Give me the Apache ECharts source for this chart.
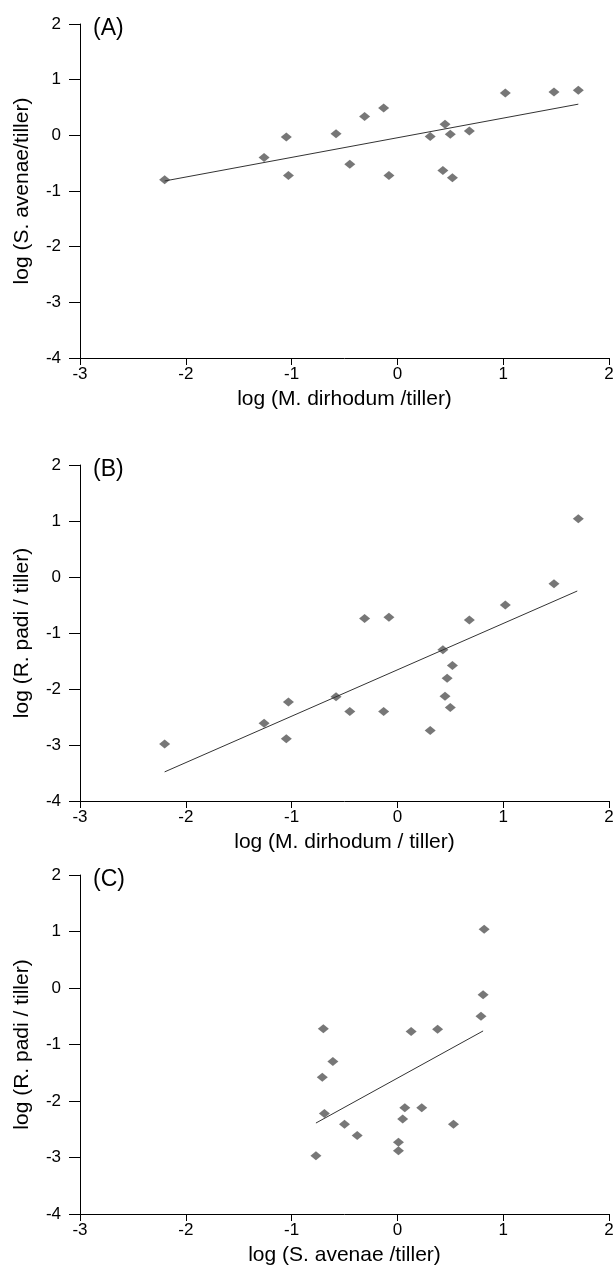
<!DOCTYPE html>
<html>
<head>
<meta charset="utf-8">
<script src="https://cdn.jsdelivr.net/npm/echarts@6/dist/echarts.min.js"></script>
<style>
html,body{margin:0;padding:0;background:#fff;}
#chart{width:613px;height:1272px;}
</style>
</head>
<body>
<div id="chart"></div>
<script>
// Panel A: log(M. dirhodum/tiller) vs log(S. avenae/tiller)
var mdA = [-2.20,-1.26,-1.05,-1.03,-0.58,-0.45,-0.31,-0.13,-0.08,0.31,0.45,0.43,0.50,0.52,0.68,1.02,1.48,1.71];
var saA = [-0.80,-0.40,-0.03,-0.72,0.03,-0.52,0.34,0.49,-0.72,-0.02,0.20,-0.63,0.02,-0.76,0.08,0.76,0.78,0.81];
var fitA = [[-2.20,-0.82],[1.71,0.56]];

// Panel B: log(M. dirhodum/tiller) vs log(R. padi/tiller)
var mdB = [-2.20,-1.26,-1.03,-1.05,-0.58,-0.45,-0.31,-0.13,-0.08,0.31,0.43,0.45,0.47,0.50,0.52,0.68,1.02,1.48,1.71];
var rpB = [-2.98,-2.61,-2.23,-2.89,-2.14,-2.40,-0.74,-2.40,-0.72,-2.74,-1.30,-2.13,-1.81,-2.33,-1.58,-0.77,-0.50,-0.12,1.04];
var fitB = [[-2.20,-3.48],[1.70,-0.25]];

// Panel C: log(S. avenae/tiller) vs log(R. padi/tiller)
var saC = [-0.77,-0.70,-0.61,-0.71,-0.69,-0.50,-0.38,0.01,0.01,0.05,0.07,0.13,0.23,0.38,0.53,0.79,0.81,0.82];
var rpC = [-2.97,-0.72,-1.30,-1.58,-2.22,-2.41,-2.61,-2.73,-2.88,-2.32,-2.12,-0.77,-2.12,-0.73,-2.41,-0.50,-0.12,1.04];
var fitC = [[-0.77,-2.39],[0.81,-0.76]];

var xTicks = [-3,-2,-1,0,1,2];
var yTicks = [-4,-3,-2,-1,0,1,2];
var panelLabels = ['(A)','(B)','(C)'];
var xNames = ['log (M. dirhodum /tiller)','log (M. dirhodum / tiller)','log (S. avenae /tiller)'];
var yNames = ['log (S. avenae/tiller)','log (R. padi / tiller)','log (R. padi / tiller)'];

function zip(a,b){ return a.map(function(v,i){ return [v,b[i]]; }); }

var grids = [
  {left:80, top:24, width:529, height:334},
  {left:80, top:465, width:529, height:336},
  {left:80, top:875, width:529, height:339}
];
var FONT = 'Liberation Sans';
var chart = echarts.init(document.getElementById('chart'), null, {renderer:'canvas'});
var xAxes = [], yAxes = [], series = [], titles = [];
for (var i=0;i<3;i++){
  grids[i].outerBoundsMode = 'none';
  grids[i].containLabel = false;
  xAxes.push({
    type:'value', gridIndex:i, min:xTicks[0], max:xTicks[xTicks.length-1], interval:1,
    name:xNames[i], nameLocation:'middle', nameGap:31,
    nameTextStyle:{fontFamily:FONT, fontSize:21, color:'#000'},
    axisLine:{show:true, onZero:false, lineStyle:{color:'#000', width:1}},
    axisTick:{show:true, inside:false, length:7, lineStyle:{color:'#000'}},
    axisLabel:{fontFamily:FONT, fontSize:17, color:'#000', margin:8},
    splitLine:{show:false}
  });
  yAxes.push({
    type:'value', gridIndex:i, min:yTicks[0], max:yTicks[yTicks.length-1], interval:1,
    name:yNames[i], nameLocation:'middle', nameGap:47,
    nameTextStyle:{fontFamily:FONT, fontSize:21, color:'#000'},
    axisLine:{show:true, onZero:false, lineStyle:{color:'#000', width:1}},
    axisTick:{show:true, inside:false, length:11, lineStyle:{color:'#000'}},
    axisLabel:{fontFamily:FONT, fontSize:17, color:'#000', margin:19},
    splitLine:{show:false}
  });
  titles.push({text:panelLabels[i], left:88, top:grids[i].top-12,
    textStyle:{fontFamily:FONT, fontSize:23, fontWeight:'normal', color:'#000'}});
}
var pts = [zip(mdA,saA), zip(mdB,rpB), zip(saC,rpC)];
var fits = [fitA, fitB, fitC];
for (var j=0;j<3;j++){
  series.push({type:'scatter', xAxisIndex:j, yAxisIndex:j, data:pts[j],
    symbol:'diamond', symbolSize:[11,9], itemStyle:{color:'#555555'}, silent:true});
  series.push({type:'line', xAxisIndex:j, yAxisIndex:j, data:fits[j], showSymbol:false,
    lineStyle:{color:'#333', width:1}, silent:true});
}
chart.setOption({
  animation:false,
  backgroundColor:'#fff',
  title:titles,
  grid:grids,
  xAxis:xAxes,
  yAxis:yAxes,
  series:series
});
</script>
</body>
</html>
